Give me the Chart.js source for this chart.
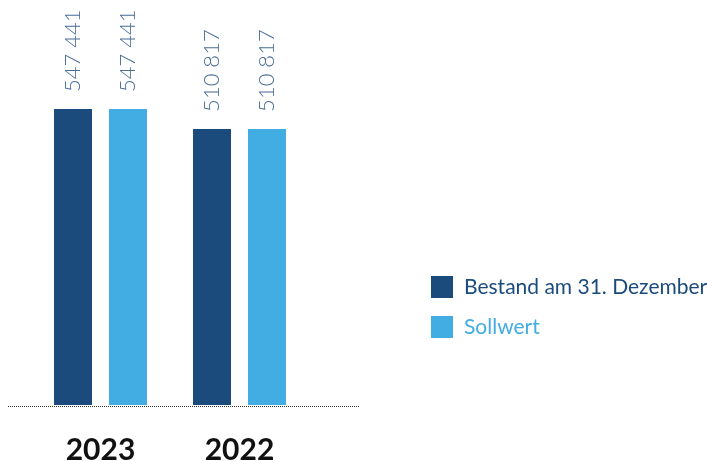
<!DOCTYPE html>
<html>
<head>
<meta charset="utf-8">
<script src="https://cdn.jsdelivr.net/npm/chart.js@4"></script>
<style>
  html, body { margin: 0; padding: 0; background: #fff; }
  #wrap { width: 707px; height: 461px; position: relative; }
</style>
</head>
<body>
<div id="wrap"><canvas id="chart" width="707" height="461"></canvas></div>
<script>
const years = ["2023", "2022"];
const bestand = [547441, 510817];
const sollwert = [547441, 510817];
const seriesNames = ["Bestand am 31. Dezember", "Sollwert"];
const colors = ["#1a4b7c", "#42ade2"];

function fmt(n){
  return String(n).replace(/\B(?=(\d{3})+(?!\d))/g, " ");
}

// labels above bars, rotated
const valueLabels = {
  id: "valueLabels",
  afterDatasetsDraw(chart){
    const ctx = chart.ctx;
    ctx.save();
    ctx.font = "300 22px Lato, 'Open Sans', sans-serif";
    ctx.fillStyle = "#4a6e98";
    ctx.textAlign = "left";
    ctx.textBaseline = "middle";
    chart.data.datasets.forEach((ds, i) => {
      chart.getDatasetMeta(i).data.forEach((bar, j) => {
        ctx.save();
        ctx.translate(bar.x, bar.y - 17);
        ctx.rotate(-Math.PI / 2);
        ctx.fillText(fmt(ds.data[j]), 0, 0);
        ctx.restore();
      });
    });
    ctx.restore();
  }
};

// dotted baseline + year labels + legend
const decor = {
  id: "decor",
  afterDraw(chart){
    const ctx = chart.ctx;
    const y0 = chart.scales.y.getPixelForValue(0) + 1;
    ctx.save();
    ctx.strokeStyle = "#333";
    ctx.lineWidth = 1;
    ctx.setLineDash([1, 1]);
    ctx.beginPath();
    ctx.moveTo(8, y0 + 0.5);
    ctx.lineTo(360, y0 + 0.5);
    ctx.stroke();
    ctx.setLineDash([]);

    ctx.font = "bold 30px Lato, 'Open Sans', sans-serif";
    ctx.fillStyle = "#111";
    ctx.textAlign = "center";
    ctx.textBaseline = "middle";
    const xs = chart.scales.x;
    chart.data.labels.forEach((l, i) => {
      ctx.fillText(l, xs.getPixelForTick(i), 450);
    });

    ctx.font = "21px Lato, 'Open Sans', sans-serif";
    ctx.textAlign = "left";
    chart.data.datasets.forEach((ds, i) => {
      const ly = 287 + i * 40;
      ctx.fillStyle = ds.backgroundColor;
      ctx.fillRect(431, ly - 11, 22, 22);
      ctx.fillText(ds.label, 464, ly);
    });
    ctx.restore();
  }
};

new Chart(document.getElementById("chart"), {
  type: "bar",
  data: {
    labels: years,
    datasets: [
      {label: seriesNames[0], data: bestand, backgroundColor: colors[0]},
      {label: seriesNames[1], data: sollwert, backgroundColor: colors[1]}
    ]
  },
  options: {
    responsive: false,
    animation: false,
    devicePixelRatio: 1,
    categoryPercentage: 0.791,
    barPercentage: 0.691,
    layout: {padding: {left: 31, right: 398, top: 5, bottom: 56}},
    plugins: {legend: {display: false}, tooltip: {enabled: false}},
    scales: {
      x: {display: false},
      y: {display: false, min: 0, max: 740000}
    }
  },
  plugins: [valueLabels, decor]
});
</script>
</body>
</html>
